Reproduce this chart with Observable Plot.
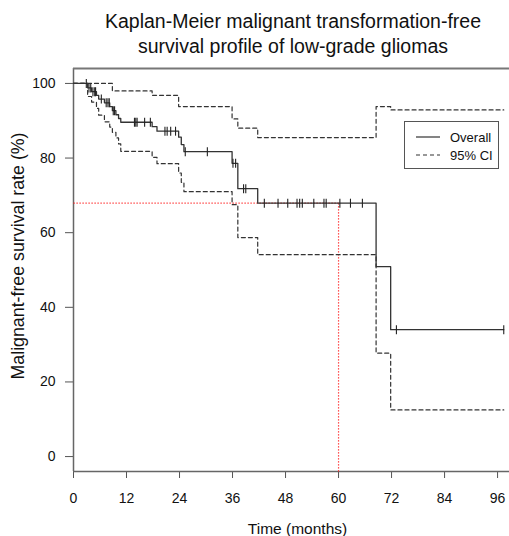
<!DOCTYPE html>
<html>
<head>
<meta charset="utf-8">
<script src="https://cdn.jsdelivr.net/npm/d3@7"></script>
<script src="https://cdn.jsdelivr.net/npm/@observablehq/plot@0.6"></script>
<style>
  html, body { margin: 0; padding: 0; background: white; }
  body { font-family: "Liberation Sans", Arial, sans-serif; }
  #wrap { position: relative; width: 509px; height: 536px; overflow: hidden; }
  #title { position: absolute; top: 9px; left: 43px; width: 500px; text-align: center;
           font-size: 19.5px; line-height: 25px; color: #111; }
  #legend { position: absolute; left: 404px; top: 121px; width: 95px; height: 48px;
            border: 1px solid #555; box-sizing: border-box; font-size: 13px; color: #111; }
  .lrow { position: absolute; left: 0; height: 16px; display: flex; align-items: center; }
  .lrow svg { margin-left: 11px; margin-right: 10px; }
</style>
</head>
<body>
<div id="wrap">
  <div id="title">Kaplan-Meier malignant transformation-free<br>survival profile of low-grade gliomas</div>
  <div id="chart"></div>
  <div id="legend">
    <div class="lrow" style="top:7px"><svg width="24" height="4"><line x1="0" x2="24" y1="2" y2="2" stroke="#333" stroke-width="1.2"/></svg>Overall</div>
    <div class="lrow" style="top:25px"><svg width="24" height="4"><line x1="0" x2="24" y1="2" y2="2" stroke="#333" stroke-width="1.2" stroke-dasharray="4,3"/></svg>95% CI</div>
  </div>
</div>
<script>
// Kaplan-Meier step data (months, %)
const times   = [0, 3.2, 4.1, 5.2, 5.7, 7.0, 8.2, 8.8, 9.6, 10.2, 10.7, 17.8, 18.9, 23.8, 24.4, 25.0, 35.9, 37.2, 41.7, 68.5, 71.8, 97.4];
const overall = [100, 98.8, 97.8, 96.8, 95.8, 94.8, 93.8, 92.7, 91.6, 90.6, 89.6, 88.4, 87.2, 85.6, 83.6, 81.7, 78.6, 71.8, 67.9, 50.9, 34.0, 34.0];
const lowerCI = [100, 96.5, 95.0, 93.3, 91.5, 89.7, 88.3, 86.9, 85.4, 83.8, 81.8, 80.2, 78.5, 76.0, 73.5, 71.0, 67.5, 58.7, 54.1, 27.7, 12.5, 12.5];
const upperCI = [100, 100, 100, 100, 100, 100, 100, 98.0, 98.0, 98.0, 98.0, 96.8, 96.8, 93.8, 93.8, 93.8, 90.5, 88.0, 85.5, 93.8, 92.9, 92.9];
// censoring times (months)
const censored = [2.9, 3.5, 3.9, 4.4, 4.8, 5.0, 6.3, 7.4, 7.8, 8.1, 9.0, 9.3, 13.8, 14.1, 14.4, 16.1, 17.4,
                  20.7, 21.2, 22.0, 23.1, 25.3, 30.3, 36.1, 36.7, 38.5, 39.0, 43.2, 46.3, 48.5, 50.6, 51.2,
                  51.8, 54.4, 56.7, 57.2, 60.3, 62.7, 65.4, 73.1, 97.4];
// 60-month landmark
const landmarkTime = 60;
const xTicks = [0, 12, 24, 36, 48, 60, 72, 84, 96];
const yTicks = [0, 20, 40, 60, 80, 100];

const stepAt = (t) => overall[d3.bisectRight(times, t) - 1];
const series = (vals) => times.map((t, i) => ({t, v: vals[i]}));
const cens = censored.map(t => ({t, v: stepAt(t)}));
const landmarkSurv = stepAt(landmarkTime);

const vbar = { draw(ctx) { ctx.moveTo(0, -4.5); ctx.lineTo(0, 4.5); } };

const xMin = 0, xMax = 98.7, yMin = -4, yMax = 104;

const chart = Plot.plot({
  width: 509, height: 536,
  marginLeft: 73, marginRight: 0, marginTop: 68, marginBottom: 65,
  style: { fontFamily: '"Liberation Sans", Arial, sans-serif', fontSize: "14px", color: "#111", background: "white" },
  x: { domain: [xMin, xMax] },
  y: { domain: [yMin, yMax] },
  marks: [
    Plot.axisX({ ticks: xTicks, tickSize: 7, tickPadding: 15, fontSize: 14, stroke: "#555", fill: "#111", label: null }),
    Plot.axisY({ ticks: yTicks, tickSize: 8, tickPadding: 10, fontSize: 14, stroke: "#555", fill: "#111", label: null }),
    Plot.ruleX([xMin], { stroke: "#666", strokeWidth: 1.5 }),
    Plot.ruleY([yMin], { stroke: "#666", strokeWidth: 1.5 }),
    Plot.ruleY([yMax], { stroke: "#777", strokeWidth: 2 }),
    // red landmark lines
    Plot.link([{x1: xMin, y1: landmarkSurv, x2: landmarkTime, y2: landmarkSurv}],
      { x1: "x1", y1: "y1", x2: "x2", y2: "y2", stroke: "#f22", strokeWidth: 1.2, strokeDasharray: "1.2,1.8" }),
    Plot.link([{x1: landmarkTime, y1: landmarkSurv, x2: landmarkTime, y2: yMin}],
      { x1: "x1", y1: "y1", x2: "x2", y2: "y2", stroke: "#f22", strokeWidth: 1.2, strokeDasharray: "1.2,1.8" }),
    Plot.line(series(upperCI), { x: "t", y: "v", curve: "step-after", stroke: "#333", strokeWidth: 1.2, strokeDasharray: "4,3" }),
    Plot.line(series(lowerCI), { x: "t", y: "v", curve: "step-after", stroke: "#333", strokeWidth: 1.2, strokeDasharray: "4,3" }),
    Plot.line(series(overall), { x: "t", y: "v", curve: "step-after", stroke: "#333", strokeWidth: 1.3 }),
    Plot.dot(cens, { x: "t", y: "v", symbol: vbar, stroke: "#222", strokeWidth: 1.1, fill: "none" }),
    Plot.text(["Time (months)"], { frameAnchor: "bottom", lineAnchor: "middle", dx: 6, dy: 58, fontSize: 15.5, fill: "#111" }),
    Plot.text(["Malignant-free survival rate (%)"], { frameAnchor: "left", textAnchor: "middle", lineAnchor: "middle", dx: -55, dy: -14, rotate: -90, fontSize: 17.8, fill: "#111" })
  ]
});
document.getElementById("chart").appendChild(chart);
</script>
</body>
</html>
